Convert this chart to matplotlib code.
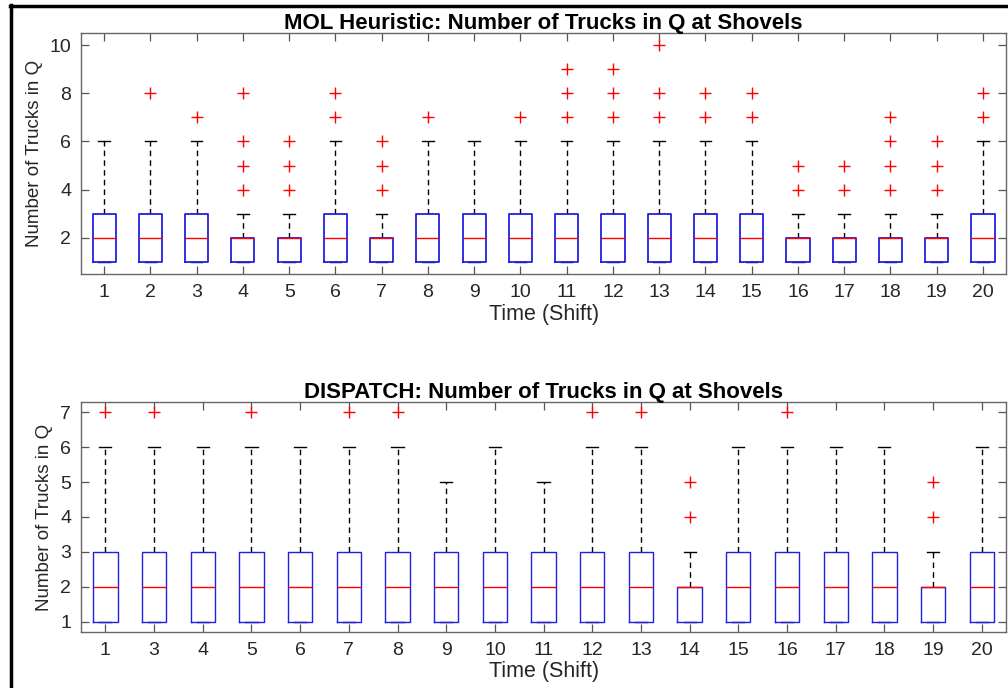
import matplotlib
matplotlib.use('Agg')
import matplotlib.pyplot as plt
from matplotlib.lines import Line2D

plt.rcParams['font.family'] = ['Liberation Sans', 'DejaVu Sans']

# MOL heuristic: per-shift box statistics
mol_shifts = [str(i) for i in range(1, 21)]
mol_q1 = [1] * 20
mol_med = [2] * 20
mol_q3 = [3, 3, 3, 2, 2, 3, 2, 3, 3, 3, 3, 3, 3, 3, 3, 2, 2, 2, 2, 3]
mol_whishi = [6, 6, 6, 3, 3, 6, 3, 6, 6, 6, 6, 6, 6, 6, 6, 3, 3, 3, 3, 6]
mol_fliers = [[], [8], [7], [4, 5, 6, 8], [4, 5, 6], [7, 8], [4, 5, 6], [7], [], [7],
              [7, 8, 9], [7, 8, 9], [7, 8, 10], [7, 8], [7, 8], [4, 5], [4, 5],
              [4, 5, 6, 7], [4, 5, 6], [7, 8]]

# DISPATCH: per-shift box statistics (shift 2 missing)
dis_shifts = ['1'] + [str(i) for i in range(3, 21)]
dis_q1 = [1] * 19
dis_med = [2] * 19
dis_q3 = [3, 3, 3, 3, 3, 3, 3, 3, 3, 3, 3, 3, 2, 3, 3, 3, 3, 2, 3]
dis_whishi = [6, 6, 6, 6, 6, 6, 6, 5, 6, 5, 6, 6, 3, 6, 6, 6, 6, 3, 6]
dis_fliers = [[7], [7], [], [7], [], [7], [7], [], [], [], [7], [7], [4, 5], [],
              [7], [], [], [4, 5], []]


def make_stats(labels, q1, med, q3, whishi, fliers):
    stats = []
    for i in range(len(labels)):
        stats.append({'label': labels[i], 'q1': q1[i], 'med': med[i], 'q3': q3[i],
                      'whislo': q1[i], 'whishi': whishi[i], 'fliers': fliers[i]})
    return stats


def draw_panel(ax, stats, title, ylim, yticks, box_lw):
    ax.bxp(stats, widths=0.5, showfliers=True,
           boxprops={'color': '#2020e0', 'linewidth': box_lw, 'zorder': 2.05},
           medianprops={'color': 'red', 'linewidth': 1.0},
           whiskerprops={'color': 'black', 'linestyle': (0, (4, 3)), 'linewidth': 1.0},
           capprops={'color': 'black', 'linewidth': 1.0},
           flierprops={'marker': '+', 'markeredgecolor': 'red', 'markersize': 8,
                       'markeredgewidth': 1.0, 'linestyle': 'none'})
    ax.set_xlim(0.5, len(stats) + 0.5)
    ax.set_ylim(*ylim)
    ax.set_yticks(yticks)
    ax.set_title(title, fontsize=16, fontweight='bold', pad=3)
    ax.set_xlabel('Time (Shift)', fontsize=15.5, color='#262626', labelpad=2)
    ax.set_ylabel('Number of Trucks in Q', fontsize=13.5, color='#262626', labelpad=5)
    ax.tick_params(direction='in', length=6, width=0.9, colors='#555555',
                   labelcolor='#262626', labelsize=14, top=True, right=True, pad=7)
    for spine in ax.spines.values():
        spine.set_color('#666666')
        spine.set_linewidth(1.0)


fig = plt.figure(figsize=(10.08, 6.88), dpi=100)
ax1 = fig.add_axes([0.0804, 0.6017, 0.9177, 0.3503])
ax2 = fig.add_axes([0.0804, 0.0814, 0.9177, 0.3343])

draw_panel(ax1, make_stats(mol_shifts, mol_q1, mol_med, mol_q3, mol_whishi, mol_fliers),
           'MOL Heuristic: Number of Trucks in Q at Shovels', (0.5, 10.5), [2, 4, 6, 8, 10], 1.3)
draw_panel(ax2, make_stats(dis_shifts, dis_q1, dis_med, dis_q3, dis_whishi, dis_fliers),
           'DISPATCH: Number of Trucks in Q at Shovels', (0.7, 7.3), [1, 2, 3, 4, 5, 6, 7], 1.0)

# frame lines along the left and top of the figure
fig.add_artist(Line2D([0.0105, 0.0105], [0.0, 0.993], color='black', linewidth=2.5))
fig.add_artist(Line2D([0.0095, 1.0], [0.9915, 0.9915], color='black', linewidth=2.5))

fig.savefig('out.png', dpi=100)
